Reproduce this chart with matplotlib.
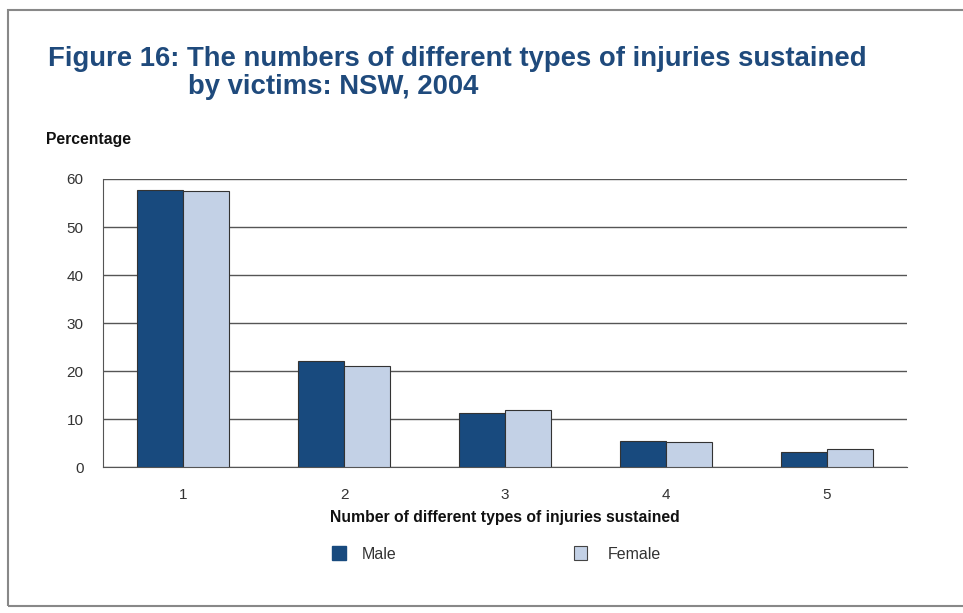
import matplotlib.pyplot as plt
from matplotlib.patches import Rectangle

plt.rcParams['font.family'] = ['Liberation Sans', 'DejaVu Sans']

# data
categories = ['1', '2', '3', '4', '5']
male = [57.7, 22.1, 11.2, 5.4, 3.1]
female = [57.5, 21.0, 11.9, 5.2, 3.7]

male_col = '#184a7e'
female_col = '#c3d1e6'
title_col = '#1f4a7c'

fig = plt.figure(figsize=(9.63, 6.13), dpi=100)
ax = fig.add_axes([0.107, 0.238, 0.835, 0.47])

x = list(range(1, len(categories) + 1))
w = 0.286
ax.bar([i - w / 2 for i in x], male, width=w, color=male_col,
       edgecolor='#333333', linewidth=0.8, zorder=3, label='Male')
ax.bar([i + w / 2 for i in x], female, width=w, color=female_col,
       edgecolor='#333333', linewidth=0.8, zorder=3, label='Female')

ax.set_xlim(0.5, 5.5)
ax.set_ylim(0, 60)
ax.set_yticks(range(0, 61, 10))
ax.set_xticks(x)
ax.set_xticklabels(categories)
ax.yaxis.grid(True, color='#555555', linewidth=1.0, zorder=0)
ax.tick_params(axis='y', length=0, labelsize=11, colors='#333333', pad=14)
ax.tick_params(axis='x', length=0, labelsize=11, colors='#333333', pad=15)
for s in ['top', 'right']:
    ax.spines[s].set_visible(False)
ax.spines['left'].set_color('#555555')
ax.spines['bottom'].set_color('#555555')

ax.set_xlabel('Number of different types of injuries sustained',
              fontsize=11.3, fontweight='bold', color='#111111', labelpad=6)
fig.text(0.048, 0.765, 'Percentage', fontsize=11.3, fontweight='bold', color='#111111')

fig.text(0.05, 0.893, 'Figure 16: The numbers of different types of injuries sustained',
         fontsize=19.8, fontweight='bold', color=title_col)
fig.text(0.195, 0.846, 'by victims: NSW, 2004',
         fontsize=19.8, fontweight='bold', color=title_col)

# legend drawn below
fig.patches.append(Rectangle((0.345, 0.086), 0.014, 0.024, transform=fig.transFigure,
                             facecolor=male_col, edgecolor=male_col))
fig.text(0.376, 0.095, 'Male', fontsize=11.5, color='#333333', va='center')
fig.patches.append(Rectangle((0.596, 0.086), 0.014, 0.024, transform=fig.transFigure,
                             facecolor=female_col, edgecolor='#444444', linewidth=0.8))
fig.text(0.631, 0.095, 'Female', fontsize=11.5, color='#333333', va='center')

# outer border
fig.patches.append(Rectangle((0.008, 0.012), 1.1, 0.972, transform=fig.transFigure,
                             fill=False, edgecolor='#888888', linewidth=1.5))

fig.savefig('out.png', dpi=100)
